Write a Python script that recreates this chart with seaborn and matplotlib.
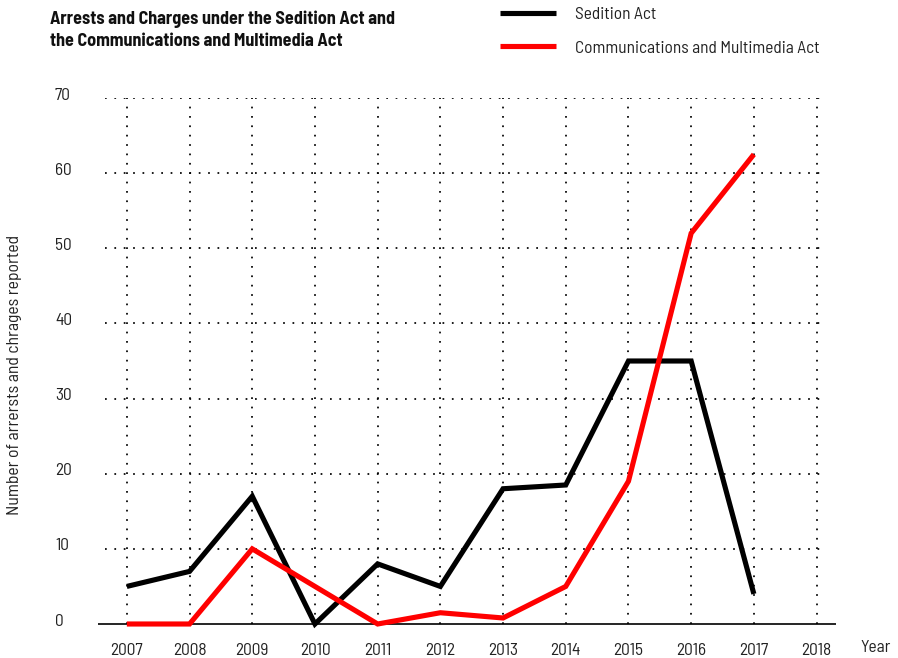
import matplotlib
matplotlib.use("Agg")
import matplotlib.pyplot as plt
import matplotlib.transforms as mtransforms
from matplotlib.lines import Line2D
import seaborn as sns
import pandas as pd

years = [2007, 2008, 2009, 2010, 2011, 2012, 2013, 2014, 2015, 2016, 2017]
sedition = [5, 7, 17, 0, 8, 5, 18, 18.5, 35, 35, 4]
cma = [0, 0, 10, 5, 0, 1.5, 0.8, 5, 19, 52, 62.5]
series_names = ["Sedition Act", "Communications and Multimedia Act"]
colors = ["#000000", "#ff0000"]
xticks = list(range(2007, 2019))
yticks = list(range(0, 80, 10))

df = pd.DataFrame({
    "Year": years * 2,
    "Value": sedition + cma,
    "Series": [series_names[0]] * len(years) + [series_names[1]] * len(years),
})

sns.set_style("white")
FONT = ["Barlow Semi Condensed", "DejaVu Sans"]
plt.rcParams["font.family"] = FONT

W, H = 898, 658
fig = plt.figure(figsize=(W / 100, H / 100), dpi=100)
ax_l, ax_r, ax_t, ax_b = 98, 836, 98, 624
ax = fig.add_axes([ax_l / W, 1 - ax_b / H, (ax_r - ax_l) / W, (ax_b - ax_t) / H])

ax.set_xlim(2006.54, 2018.31)
ax.set_ylim(0, 70)

dot = (0, (1, 4.4))
ax.hlines(yticks[1:], 2006.65, 2018.05, colors="#000000", linestyles=dot, lw=1.25, zorder=1)
ax.vlines(xticks, 0, 70, colors="#000000", linestyles=dot, lw=1.25, zorder=1)
ax.axhline(0, color="#000000", lw=1.2, zorder=2, clip_on=False)

sns.lineplot(data=df, x="Year", y="Value", hue="Series", palette=colors,
             hue_order=series_names, linewidth=3.7, ax=ax, legend=False,
             zorder=3, clip_on=False)
for ln in ax.get_lines():
    ln.set_solid_capstyle("butt")
    ln.set_solid_joinstyle("miter")

for s in ax.spines.values():
    s.set_visible(False)

fs = 12.5
ax.set_xticks(xticks)
ax.set_xticklabels([str(x) for x in xticks])
ax.set_yticks(yticks)
ax.set_yticklabels([str(y) for y in yticks])
ax.tick_params(axis="x", length=0, pad=13.5, labelsize=fs, labelcolor="#222222")
ax.tick_params(axis="y", length=0, pad=31, labelsize=fs, labelcolor="#222222")
for lab in ax.get_yticklabels():
    lab.set_ha("left")
    lab.set_transform(lab.get_transform() + mtransforms.ScaledTranslation(0, 4.5 / 100, fig.dpi_scale_trans))
ax.set_xlabel("")
ax.set_ylabel("")

fig.text(876 / W, 1 - 647 / H, "Year", ha="center", va="center", fontsize=fs, color="#222222")
fig.text(15 / W, 1 - 375 / H, "Number of arrersts and chrages reported", rotation=90,
         ha="center", va="center", fontsize=12.7, color="#222222")

fig.text(50 / W, 1 - 30 / H, "Arrests and Charges under the Sedition Act and\nthe Communications and Multimedia Act",
         ha="left", va="center", fontsize=13, fontweight="bold", linespacing=1.4,
         color="#111111")

handles = [Line2D([0], [0], color=c, lw=3.7, solid_capstyle="butt") for c in colors]
fig.legend(handles, series_names, loc="upper left",
           bbox_to_anchor=(500 / W, 1 - 7 / H), frameon=False, fontsize=fs,
           handlelength=3.2, handletextpad=1.1, labelspacing=1.05,
           borderaxespad=0, borderpad=0, labelcolor="#222222")

fig.savefig("out.png", dpi=100)
